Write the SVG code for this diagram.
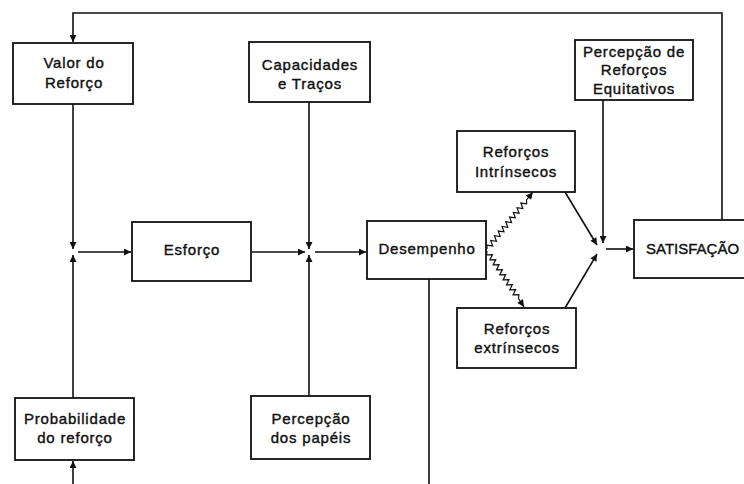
<svg xmlns="http://www.w3.org/2000/svg" width="744" height="484" viewBox="0 0 744 484">
<defs>
<marker id="ah" viewBox="0 0 10 10" refX="10" refY="5" markerWidth="9" markerHeight="7" markerUnits="userSpaceOnUse" orient="auto">
<path d="M0,0 L10,5 L0,10 z" fill="#111"/>
</marker>
</defs>
<style>
.box{fill:#fff;stroke:#111;stroke-width:1.8}
.t{font-family:"Liberation Sans",Arial,sans-serif;font-size:15px;letter-spacing:0.8px;fill:#111;stroke:#111;stroke-width:0.4;text-anchor:middle}
.c{fill:none;stroke:#111;stroke-width:1.6}
.ca{fill:none;stroke:#111;stroke-width:1.6;marker-end:url(#ah)}
.z{fill:none;stroke:#111;stroke-width:1.2;marker-end:url(#ah)}
</style>
<rect width="744" height="484" fill="#fff"/>
<g id="connectors">
<path class="ca" d="M722,220 V13 H73 V42"/>
<path class="ca" d="M73,104 V249"/>
<path class="ca" d="M73,398 V255"/>
<path class="ca" d="M73,484 V461"/>
<path class="ca" d="M78,252 H131"/>
<path class="ca" d="M252,252 H305"/>
<path class="ca" d="M309,102 V249"/>
<path class="ca" d="M309,396 V255"/>
<path class="ca" d="M315,252 H366"/>
<path class="c" d="M429,279 V484"/>
<path class="ca" d="M565,192 L597,245"/>
<path class="ca" d="M603,100 V243"/>
<path class="ca" d="M565,308 L597,254"/>
<path class="ca" d="M606,249 H633"/>
<path class="z" transform="translate(487,249) rotate(-51.1)" d="M0,0 L3,-2.5 L6,2.5 L9,-2.5 L12,2.5 L15,-2.5 L18,2.5 L21,-2.5 L24,2.5 L27,-2.5 L30,2.5 L33,-2.5 L36,2.5 L39,-2.5 L42,2.5 L45,-2.5 L48,2.5 L51,-2.5 L54,2.5 L57,-2.5 L60,2.5 L63,0 L73,0"/>
<path class="z" transform="translate(487,251) rotate(56.5)" d="M0,0 L3,2.5 L6,-2.5 L9,2.5 L12,-2.5 L15,2.5 L18,-2.5 L21,2.5 L24,-2.5 L27,2.5 L30,-2.5 L33,2.5 L36,-2.5 L39,2.5 L42,-2.5 L45,2.5 L48,-2.5 L51,2.5 L54,-2.5 L57,0 L67,0"/>
</g>
<g id="valor">
<rect class="box" x="13" y="43" width="120" height="61"/>
<text class="t" x="74" y="68">Valor do</text>
<text class="t" x="74" y="88">Reforço</text>
</g>
<g id="capacidades">
<rect class="box" x="249" y="42" width="121" height="60"/>
<text class="t" x="310" y="70">Capacidades</text>
<text class="t" x="310" y="89">e Traços</text>
</g>
<g id="percepcaoReforcos">
<rect class="box" x="575" y="40" width="118" height="60"/>
<text class="t" x="634" y="57">Percepção de</text>
<text class="t" x="634" y="75">Reforços</text>
<text class="t" x="634" y="94">Equitativos</text>
</g>
<g id="intrinsecos">
<rect class="box" x="457" y="131" width="118" height="61"/>
<text class="t" x="516" y="157">Reforços</text>
<text class="t" x="516" y="177">Intrínsecos</text>
</g>
<g id="esforco">
<rect class="box" x="132" y="222" width="119" height="59"/>
<text class="t" x="192" y="255">Esforço</text>
</g>
<g id="desempenho">
<rect class="box" x="367" y="221" width="119" height="58"/>
<text class="t" x="427" y="254">Desempenho</text>
</g>
<g id="satisfacao">
<rect class="box" x="634" y="220" width="130" height="58"/>
<text class="t" x="646" y="254" style="text-anchor:start;letter-spacing:0">SATISFAÇÃO</text>
</g>
<g id="extrinsecos">
<rect class="box" x="457" y="308" width="119" height="60"/>
<text class="t" x="517" y="334">Reforços</text>
<text class="t" x="517" y="353">extrínsecos</text>
</g>
<g id="probabilidade">
<rect class="box" x="15" y="398" width="119" height="62"/>
<text class="t" x="75" y="424">Probabilidade</text>
<text class="t" x="75" y="443">do reforço</text>
</g>
<g id="papeis">
<rect class="box" x="251" y="396" width="119" height="63"/>
<text class="t" x="311" y="424">Percepção</text>
<text class="t" x="311" y="443">dos papéis</text>
</g>
</svg>
